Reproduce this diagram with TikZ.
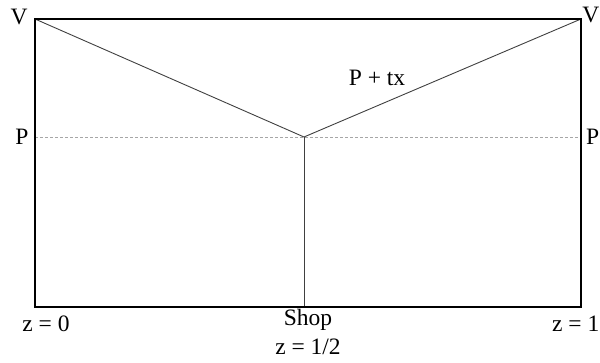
\documentclass[tikz,border=0pt]{standalone}
\usepackage{fontspec}
\setmainfont{Liberation Serif}
\usetikzlibrary{positioning}
\begin{document}
\begin{tikzpicture}[x=1pt,y=-1pt]
\tikzset{
 box/.style={line width=2pt},
 road/.style={draw=black!75,line width=0.9pt},
 lvl/.style={draw=black!35,dashed,line width=0.6pt,dash pattern=on 3pt off 2pt},
 lbl/.style={inner sep=0pt,font=\fontsize{23.5}{28}\selectfont}
}
\useasboundingbox (0,0) rectangle (600,363);
% corners and junction
\coordinate (tl) at (35,19);
\coordinate (tr) at (581,19);
\coordinate (bl) at (35,307);
\coordinate (br) at (581,307);
\coordinate (j) at (304,137);
\coordinate (pl) at (35,137);
\coordinate (pr) at (581,137);
\coordinate (s) at (304,307);
\draw[lvl] (pl)--(pr);
\draw[road] (tl)--(j)--(tr);
\draw[road] (j)--(s);
\draw[box] (tl) rectangle (br);
% labels
\node[lbl] (vl) at (19,17) {V};
\node[lbl,anchor=east] (vr) at (599.5,15) {V};
\node[lbl] (p1) at (22,137) {P};
\node[lbl,anchor=east] (p2) at (599.5,137) {P};
\node[lbl] (ptx) at (377,78) {P + tx};
\node[lbl] (z0) at (46,324) {z = 0};
\node[lbl,anchor=east] (z1) at (599.5,324) {z = 1};
\node[lbl] (shop) at (308,320) {Shop};
\node[lbl] (zh) at (308,347) {z = 1/2};
\end{tikzpicture}
\end{document}
